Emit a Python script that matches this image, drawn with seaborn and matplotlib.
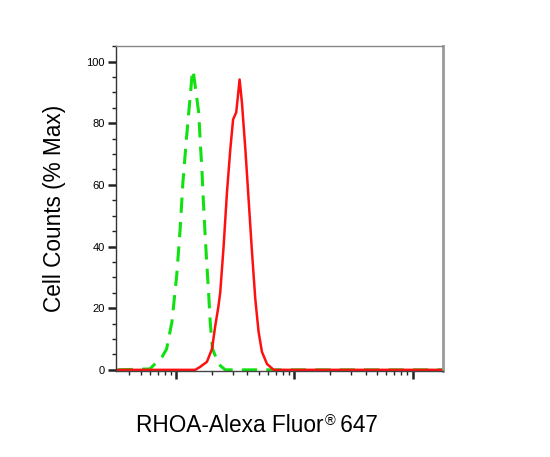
import numpy as np
import pandas as pd
import matplotlib.pyplot as plt
import seaborn as sns
from matplotlib.ticker import LogLocator, NullFormatter, MultipleLocator

# isotype control (green dashed)
ctrl_x = [3.2, 6.0, 7.6, 8.3, 9.2, 10.1, 10.8, 11.4, 12.2, 13.0, 13.6, 13.9,
          14.5, 15.5, 16.0, 16.5, 17.0, 17.6, 18.2, 18.8, 19.4, 20.3, 22.8, 26.0, 1800]
ctrl_y = [0, 0.3, 4.2, 6.8, 15.5, 30.5, 45.6, 60.8, 74.8, 86.7, 95.2, 97.2,
          92, 83.5, 73.8, 65, 54.4, 43.4, 33.7, 25.2, 15.5, 6.8, 1.9, 0, 0]

# RHOA stained (red solid)
rhoa_x = [3.2, 14.5, 16.0, 18.2, 20.1, 21.4, 22.8, 23.6, 25.2, 26.9, 28.7, 30.3,
          32.2, 33.3, 34.4, 36.0, 38.5, 41.0, 43.8, 46.7, 49.8, 53.2, 58.7, 66.8, 1800]
rhoa_y = [0, 0, 1, 2.6, 6.8, 14.2, 20.7, 25.2, 40.1, 57.6, 71.5, 81.2,
          83.5, 88.8, 94.2, 86.7, 71.5, 55.3, 38.2, 23, 12.3, 5.8, 1.9, 0, 0]

df_ctrl = pd.DataFrame({'x': ctrl_x, 'y': ctrl_y})
df_rhoa = pd.DataFrame({'x': rhoa_x, 'y': rhoa_y})

sns.set_style("white")
plt.rcParams['font.family'] = ['Liberation Sans', 'DejaVu Sans']
plt.rcParams['text.color'] = 'black'
plt.rcParams['axes.labelcolor'] = 'black'
plt.rcParams['ytick.labelcolor'] = 'black'

fig = plt.figure(figsize=(5.5, 4.57), dpi=100)
ax = fig.add_axes([0.211, 0.188, 0.594, 0.711])

sns.lineplot(data=df_ctrl, x='x', y='y', ax=ax, color='#11e011', lw=2.2,
             linestyle=(0, (5, 3)), sort=False)
sns.lineplot(data=df_rhoa, x='x', y='y', ax=ax, color='#ff1010', lw=1.8, sort=False)

ax.set_xscale('log')
ax.set_xlim(3.1, 1800)
ax.set_ylim(-0.4, 105)

ax.xaxis.set_major_locator(LogLocator(base=10, numticks=10))
ax.xaxis.set_minor_locator(LogLocator(base=10, subs=np.arange(2, 10), numticks=100))
ax.xaxis.set_major_formatter(NullFormatter())
ax.xaxis.set_minor_formatter(NullFormatter())
ax.yaxis.set_major_locator(MultipleLocator(20))
ax.yaxis.set_minor_locator(MultipleLocator(5))

ax.tick_params(axis='both', which='major', direction='out', length=6, width=1.8,
               color='#222222', labelsize=8, pad=2, labelcolor='black')
ax.tick_params(axis='both', which='minor', direction='out', length=3, width=1,
               color='#222222')
ax.tick_params(axis='x', which='both', bottom=True, top=False)
ax.tick_params(axis='y', which='both', left=True, right=False)

ax.spines['left'].set_color('#333333')
ax.spines['left'].set_linewidth(1)
ax.spines['top'].set_color('#888888')
ax.spines['top'].set_linewidth(1)
ax.spines['right'].set_color('#999999')
ax.spines['right'].set_linewidth(2)
ax.spines['bottom'].set_color('#444444')
ax.spines['bottom'].set_linewidth(1)

ax.set_xlabel('')
ax.set_ylabel('Cell Counts (% Max)', fontsize=16.3, labelpad=15, color='black')

# x label with a small raised registered sign
t1 = fig.text(136 / 550, 1 - 432 / 457, 'RHOA-Alexa Fluor', fontsize=16.3,
              ha='left', va='baseline', color='black')
t2 = ax.annotate('\u00ae', xy=(1.005, 0.5), xycoords=t1, fontsize=10.5,
                 ha='left', va='baseline', annotation_clip=False, color='black')
t3 = ax.annotate(' 647', xy=(0.9, 0), xycoords=(t2, t1), fontsize=16.3,
                 ha='left', va='bottom', annotation_clip=False, color='black')

fig.savefig('out.png', dpi=100)
